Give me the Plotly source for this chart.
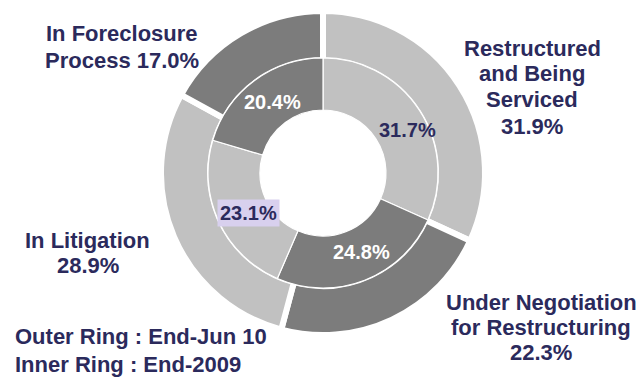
import plotly.graph_objects as go

# Loan status shares, clockwise from 12 o'clock
categories = ["Restructured and Being Serviced",
              "Under Negotiation for Restructuring",
              "In Litigation",
              "In Foreclosure Process"]
outer_values = [31.9, 22.3, 28.9, 17.0]   # End-Jun 10
inner_values = [31.7, 24.8, 23.1, 20.4]   # End-2009
slice_colors = ["#c1c1c1", "#7c7c7c", "#c1c1c1", "#7c7c7c"]

W, H = 642, 379
CX, CY = 323, 173          # ring centre, px from top-left
R_OUT, R_MID, R_HOLE = 162, 113, 63
NAVY = "#2b2a5c"
FONT = "Liberation Sans, Arial, sans-serif"


def dom(r):
    return dict(x=[(CX - r) / W, (CX + r) / W],
                y=[1 - (CY + r) / H, 1 - (CY - r) / H])


fig = go.Figure()

# Outer ring with white gaps between slices
fig.add_trace(go.Pie(
    labels=categories, values=outer_values, sort=False, direction="clockwise",
    rotation=0, hole=R_MID / R_OUT, domain=dom(R_OUT),
    marker=dict(colors=slice_colors, line=dict(color="white", width=6)),
    textinfo="none", hoverinfo="label+percent", showlegend=False,
))

# Inner ring, drawn on top so only a thin white rim separates the rings
r_in = R_MID + 2
fig.add_trace(go.Pie(
    labels=categories, values=inner_values, sort=False, direction="clockwise",
    rotation=0, hole=R_HOLE / r_in, domain=dom(r_in),
    marker=dict(colors=slice_colors, line=dict(color="white", width=1.2)),
    textinfo="none", hoverinfo="label+percent", showlegend=False,
))


def px(x, y):
    return x / W, 1 - y / H


def pct(v):
    return f"{v:.1f}%"


def text_line(text, x, y, size, color, anchor="center", bg=None):
    ax, ay = px(x, y)
    fig.add_annotation(x=ax, y=ay, xref="paper", yref="paper", text=text,
                       showarrow=False, xanchor=anchor, yanchor="middle",
                       bgcolor=bg, borderpad=2,
                       font=dict(family=FONT, size=size, color=color, weight=700))


# Outer ring labels, one line at a time
outer_labels = [
    (["Restructured", "and Being", "Serviced", pct(outer_values[0])], 532, [48, 74, 100, 126]),
    (["Under Negotiation", "for Restructuring", pct(outer_values[1])], 541, [302, 327, 352]),
    (["In Litigation", pct(outer_values[2])], 88, [240, 265]),
    (["In Foreclosure", "Process " + pct(outer_values[3])], 122, [33, 61]),
]
for lines, x, ys in outer_labels:
    for t, y in zip(lines, ys):
        text_line(t, x, y, 22, NAVY)

# Inner ring labels
inner_labels = [
    (inner_values[0], 407, 130, NAVY, None),
    (inner_values[1], 362, 252, "white", None),
    (inner_values[2], 248, 213, NAVY, "#d8d0ee"),
    (inner_values[3], 272, 102, "white", None),
]
for v, x, y, col, bg in inner_labels:
    text_line(pct(v), x, y, 20, col, bg=bg)

# Ring key
text_line("Outer Ring : End-Jun 10", 12, 336, 22, NAVY, anchor="left")
text_line("Inner Ring : End-2009", 12, 364, 22, NAVY, anchor="left")

fig.update_layout(width=W, height=H, margin=dict(l=0, r=0, t=0, b=0),
                  paper_bgcolor="white", plot_bgcolor="white")

fig.write_html("out.html")
